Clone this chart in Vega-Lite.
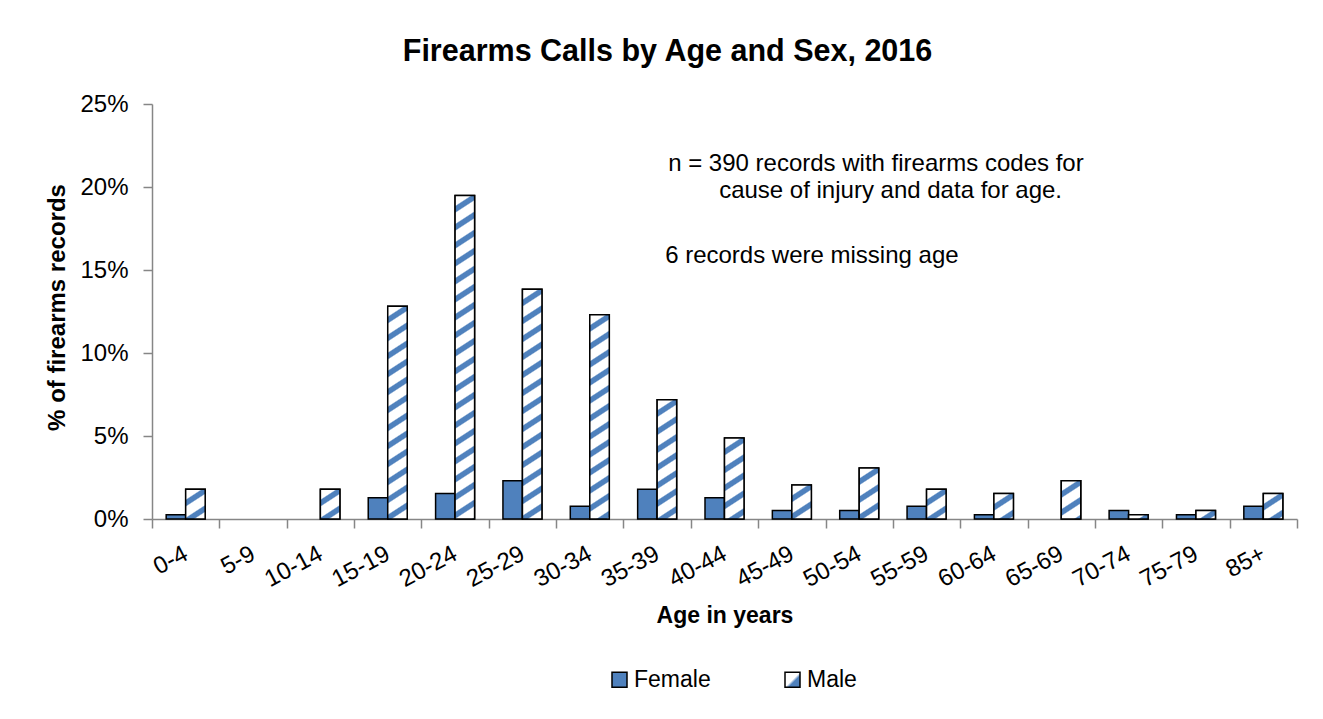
{
  "$schema": "https://vega.github.io/schema/vega-lite/v6.json",
  "autosize": "none",
  "width": 1145,
  "height": 415,
  "padding": {"left": 152, "top": 104, "right": 26, "bottom": 200},
  "background": "#ffffff",
  "params": [
    {
      "name": "hatchStops",
      "value": [
        {"offset": 0, "color": "#ffffff"}, {"offset": 0.0275, "color": "#ffffff"}, {"offset": 0.0315, "color": "#4f81bd"}, {"offset": 0.046, "color": "#4f81bd"},
        {"offset": 0.05, "color": "#ffffff"}, {"offset": 0.0775, "color": "#ffffff"}, {"offset": 0.0815, "color": "#4f81bd"}, {"offset": 0.096, "color": "#4f81bd"},
        {"offset": 0.1, "color": "#ffffff"}, {"offset": 0.1275, "color": "#ffffff"}, {"offset": 0.1315, "color": "#4f81bd"}, {"offset": 0.146, "color": "#4f81bd"},
        {"offset": 0.15, "color": "#ffffff"}, {"offset": 0.1775, "color": "#ffffff"}, {"offset": 0.1815, "color": "#4f81bd"}, {"offset": 0.196, "color": "#4f81bd"},
        {"offset": 0.2, "color": "#ffffff"}, {"offset": 0.2275, "color": "#ffffff"}, {"offset": 0.2315, "color": "#4f81bd"}, {"offset": 0.246, "color": "#4f81bd"},
        {"offset": 0.25, "color": "#ffffff"}, {"offset": 0.2775, "color": "#ffffff"}, {"offset": 0.2815, "color": "#4f81bd"}, {"offset": 0.296, "color": "#4f81bd"},
        {"offset": 0.3, "color": "#ffffff"}, {"offset": 0.3275, "color": "#ffffff"}, {"offset": 0.3315, "color": "#4f81bd"}, {"offset": 0.346, "color": "#4f81bd"},
        {"offset": 0.35, "color": "#ffffff"}, {"offset": 0.3775, "color": "#ffffff"}, {"offset": 0.3815, "color": "#4f81bd"}, {"offset": 0.396, "color": "#4f81bd"},
        {"offset": 0.4, "color": "#ffffff"}, {"offset": 0.4275, "color": "#ffffff"}, {"offset": 0.4315, "color": "#4f81bd"}, {"offset": 0.446, "color": "#4f81bd"},
        {"offset": 0.45, "color": "#ffffff"}, {"offset": 0.4775, "color": "#ffffff"}, {"offset": 0.4815, "color": "#4f81bd"}, {"offset": 0.496, "color": "#4f81bd"},
        {"offset": 0.5, "color": "#ffffff"}, {"offset": 0.5275, "color": "#ffffff"}, {"offset": 0.5315, "color": "#4f81bd"}, {"offset": 0.546, "color": "#4f81bd"},
        {"offset": 0.55, "color": "#ffffff"}, {"offset": 0.5775, "color": "#ffffff"}, {"offset": 0.5815, "color": "#4f81bd"}, {"offset": 0.596, "color": "#4f81bd"},
        {"offset": 0.6, "color": "#ffffff"}, {"offset": 0.6275, "color": "#ffffff"}, {"offset": 0.6315, "color": "#4f81bd"}, {"offset": 0.646, "color": "#4f81bd"},
        {"offset": 0.65, "color": "#ffffff"}, {"offset": 0.6775, "color": "#ffffff"}, {"offset": 0.6815, "color": "#4f81bd"}, {"offset": 0.696, "color": "#4f81bd"},
        {"offset": 0.7, "color": "#ffffff"}, {"offset": 0.7275, "color": "#ffffff"}, {"offset": 0.7315, "color": "#4f81bd"}, {"offset": 0.746, "color": "#4f81bd"},
        {"offset": 0.75, "color": "#ffffff"}, {"offset": 0.7775, "color": "#ffffff"}, {"offset": 0.7815, "color": "#4f81bd"}, {"offset": 0.796, "color": "#4f81bd"},
        {"offset": 0.8, "color": "#ffffff"}, {"offset": 0.8275, "color": "#ffffff"}, {"offset": 0.8315, "color": "#4f81bd"}, {"offset": 0.846, "color": "#4f81bd"},
        {"offset": 0.85, "color": "#ffffff"}, {"offset": 0.8775, "color": "#ffffff"}, {"offset": 0.8815, "color": "#4f81bd"}, {"offset": 0.896, "color": "#4f81bd"},
        {"offset": 0.9, "color": "#ffffff"}, {"offset": 0.9275, "color": "#ffffff"}, {"offset": 0.9315, "color": "#4f81bd"}, {"offset": 0.946, "color": "#4f81bd"},
        {"offset": 0.95, "color": "#ffffff"}, {"offset": 0.9775, "color": "#ffffff"}, {"offset": 0.9815, "color": "#4f81bd"}, {"offset": 0.996, "color": "#4f81bd"},
        {"offset": 1, "color": "#ffffff"}
      ]
    }
  ],
  "title": {
    "text": "Firearms Calls by Age and Sex, 2016",
    "fontSize": 30.5,
    "fontWeight": "bold",
    "color": "#000000",
    "anchor": "middle",
    "frame": "group",
    "dx": -57,
    "baseline": "alphabetic",
    "offset": 1
  },
  "datasets": {
    "calls": [
      {"age": "0-4", "sex": "Female", "pct": 0.256},
      {"age": "0-4", "sex": "Male", "pct": 1.795},
      {"age": "10-14", "sex": "Male", "pct": 1.795},
      {"age": "15-19", "sex": "Female", "pct": 1.282},
      {"age": "15-19", "sex": "Male", "pct": 12.821},
      {"age": "20-24", "sex": "Female", "pct": 1.538},
      {"age": "20-24", "sex": "Male", "pct": 19.487},
      {"age": "25-29", "sex": "Female", "pct": 2.308},
      {"age": "25-29", "sex": "Male", "pct": 13.846},
      {"age": "30-34", "sex": "Female", "pct": 0.769},
      {"age": "30-34", "sex": "Male", "pct": 12.308},
      {"age": "35-39", "sex": "Female", "pct": 1.795},
      {"age": "35-39", "sex": "Male", "pct": 7.179},
      {"age": "40-44", "sex": "Female", "pct": 1.282},
      {"age": "40-44", "sex": "Male", "pct": 4.872},
      {"age": "45-49", "sex": "Female", "pct": 0.513},
      {"age": "45-49", "sex": "Male", "pct": 2.051},
      {"age": "50-54", "sex": "Female", "pct": 0.513},
      {"age": "50-54", "sex": "Male", "pct": 3.077},
      {"age": "55-59", "sex": "Female", "pct": 0.769},
      {"age": "55-59", "sex": "Male", "pct": 1.795},
      {"age": "60-64", "sex": "Female", "pct": 0.256},
      {"age": "60-64", "sex": "Male", "pct": 1.538},
      {"age": "65-69", "sex": "Male", "pct": 2.308},
      {"age": "70-74", "sex": "Female", "pct": 0.513},
      {"age": "70-74", "sex": "Male", "pct": 0.256},
      {"age": "75-79", "sex": "Female", "pct": 0.256},
      {"age": "75-79", "sex": "Male", "pct": 0.513},
      {"age": "85+", "sex": "Female", "pct": 0.769},
      {"age": "85+", "sex": "Male", "pct": 1.538}
    ],
    "notes": [
      {"line": 1, "note": "n = 390 records with firearms codes for"},
      {"line": 2, "note": "cause of injury and data for age."},
      {"line": 3, "note": "6 records were missing age"}
    ]
  },
  "layer": [
    {
      "data": {"name": "calls"},
      "mark": {"type": "bar", "stroke": "#000000", "strokeWidth": 1.5},
      "encoding": {
        "x": {
          "field": "age",
          "type": "nominal",
          "sort": null,
          "scale": {
            "domain": ["0-4", "5-9", "10-14", "15-19", "20-24", "25-29", "30-34", "35-39", "40-44", "45-49", "50-54", "55-59", "60-64", "65-69", "70-74", "75-79", "85+"],
            "paddingInner": 0,
            "paddingOuter": 0
          },
          "axis": {
            "title": "Age in years",
            "tickBand": "extent",
            "labelAngle": -28,
            "labelAlign": "right",
            "labelBaseline": "middle",
            "labelPadding": 24,
            "titleY": 103,
            "titleBaseline": "alphabetic"
          }
        },
        "y": {
          "field": "pct",
          "type": "quantitative",
          "scale": {"domain": [0, 25], "nice": false},
          "axis": {
            "title": "% of firearms records",
            "values": [0, 5, 10, 15, 20, 25],
            "labelExpr": "datum.value + '%'",
            "grid": false,
            "labelPadding": 15,
            "titleX": -88,
            "titleY": 203,
            "titleBaseline": "alphabetic",
            "titleFontSize": 24
          }
        },
        "xOffset": {
          "field": "sex",
          "type": "nominal",
          "scale": {"domain": ["Female", "Male"], "paddingInner": 0, "paddingOuter": 0.727}
        },
        "fill": {
          "field": "sex",
          "type": "nominal",
          "scale": {
            "domain": ["Female", "Male"],
            "range": ["#4f81bd", {"expr": "{gradient: 'linear', x1: 0, y1: 0, x2: 1, y2: 1, stops: [{offset: 0, color: '#ffffff'}, {offset: 0.5, color: '#ffffff'}, {offset: 0.62, color: '#4f81bd'}, {offset: 1, color: '#4f81bd'}]}"}]
          },
          "legend": {
            "title": null,
            "orient": "none",
            "direction": "horizontal",
            "legendX": 456,
            "legendY": 564,
            "columnPadding": 70,
            "symbolType": "square",
            "symbolSize": 225,
            "symbolStrokeWidth": 1.5,
            "symbolStrokeColor": "#000000",
            "labelOffset": 3,
            "labelFontSize": 23,
            "labelColor": "#000000"
          }
        }
      }
    },
    {
      "data": {"name": "calls"},
      "transform": [{"filter": "datum.sex === 'Male'"}],
      "mark": {
        "type": "bar",
        "stroke": "#000000",
        "strokeWidth": 1.5,
        "fill": {"expr": "{gradient: 'linear', x1: 0, y1: 0, x2: 4563 / (160.66 + pow(datum.pct * 16.6, 2)), y2: 360 * datum.pct * 16.6 / (160.66 + pow(datum.pct * 16.6, 2)), stops: hatchStops}"}
      },
      "encoding": {
        "x": {"field": "age", "type": "nominal", "sort": null},
        "y": {"field": "pct", "type": "quantitative"},
        "xOffset": {"field": "sex", "type": "nominal"}
      }
    },
    {
      "data": {"name": "notes"},
      "transform": [{"filter": "datum.line === 1"}],
      "mark": {"type": "text", "align": "left", "baseline": "alphabetic", "fontSize": 24, "dx": 11, "color": "#000000"},
      "encoding": {
        "x": {"datum": "35-39", "type": "nominal"},
        "y": {"datum": 20.96, "type": "quantitative"},
        "text": {"field": "note", "type": "nominal"}
      }
    },
    {
      "data": {"name": "notes"},
      "transform": [{"filter": "datum.line === 2"}],
      "mark": {"type": "text", "align": "left", "baseline": "alphabetic", "fontSize": 24, "dx": 62, "color": "#000000"},
      "encoding": {
        "x": {"datum": "35-39", "type": "nominal"},
        "y": {"datum": 19.34, "type": "quantitative"},
        "text": {"field": "note", "type": "nominal"}
      }
    },
    {
      "data": {"name": "notes"},
      "transform": [{"filter": "datum.line === 3"}],
      "mark": {"type": "text", "align": "left", "baseline": "alphabetic", "fontSize": 24, "dx": 8, "color": "#000000"},
      "encoding": {
        "x": {"datum": "35-39", "type": "nominal"},
        "y": {"datum": 15.42, "type": "quantitative"},
        "text": {"field": "note", "type": "nominal"}
      }
    }
  ],
  "config": {
    "font": "Liberation Sans",
    "view": {"stroke": null},
    "axis": {
      "labelFontSize": 24,
      "labelColor": "#000000",
      "titleFontSize": 23,
      "titleFontWeight": "bold",
      "titleColor": "#000000",
      "tickSize": 9,
      "tickColor": "#868686",
      "tickWidth": 1.5,
      "domainColor": "#868686",
      "domainWidth": 1.5
    }
  }
}
